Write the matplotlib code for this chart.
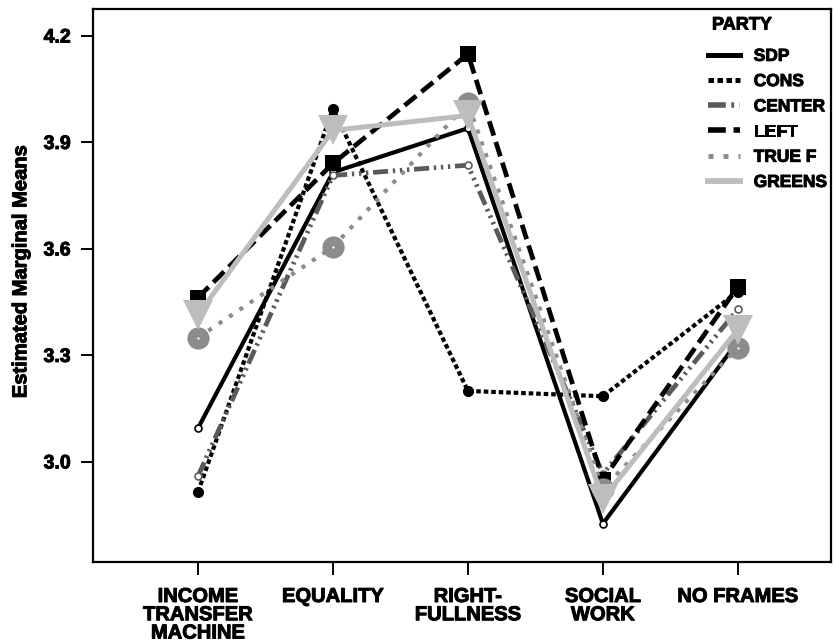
import matplotlib
matplotlib.use("Agg")
import matplotlib.pyplot as plt
import matplotlib.patheffects as pe
from matplotlib.lines import Line2D

plt.rcParams['font.family'] = ['Liberation Sans', 'DejaVu Sans']
plt.rcParams['font.weight'] = 'bold'

frames = ["INCOME\nTRANSFER\nMACHINE", "EQUALITY", "RIGHT-\nFULLNESS", "SOCIAL\nWORK", "NO FRAMES"]
parties = ["SDP", "CONS", "CENTER", "LEFT", "TRUE F", "GREENS"]

sdp = [3.095, 3.816, 3.940, 2.826, 3.340]
cons = [2.915, 3.995, 3.200, 3.185, 3.480]
center = [2.960, 3.807, 3.836, 2.966, 3.430]
left = [3.463, 3.841, 4.149, 2.950, 3.494]
truef = [3.350, 3.606, 4.010, 2.924, 3.322]
greens = [3.415, 3.934, 3.976, 2.896, 3.373]

yticks = [3.0, 3.3, 3.6, 3.9, 4.2]

series = [sdp, cons, center, left, truef, greens]
styles = [
    dict(color="black", lw=3.0, ls="-", marker="o", ms=5, mfc="white", mec="black", mew=1.2),
    dict(color="black", lw=3.0, ls=(0, (1.1, 0.7)), marker="o", ms=7, mfc="black", mec="black", mew=1),
    dict(color="#5a5a5a", lw=3.4, ls=(0, (3.2, 1.0, 0.5, 1.0, 0.5, 1.0, 0.5, 1.0)), marker="o", ms=5, mfc="white", mec="#5a5a5a", mew=1.2),
    dict(color="black", lw=3.4, ls=(0, (3.2, 1.4)), marker="s", ms=11, mfc="black", mec="black", mew=0),
    dict(color="#8c8c8c", lw=3.0, ls=(0, (1.0, 2.0)), marker="o", ms=9, mfc="white", mec="#8c8c8c", mew=7),
    dict(color="#bdbdbd", lw=3.6, ls="-", marker="v", ms=22, mfc="#bdbdbd", mec="#bdbdbd", mew=0),
]

bold_fx = [pe.withStroke(linewidth=0.7, foreground="black")]

fig = plt.figure(figsize=(8.35, 6.41), dpi=100)
ax = fig.add_axes([93/835, 1 - 562/641, (831 - 93)/835, (562 - 9)/641])

x = list(range(len(frames)))
for vals, st in zip(series, styles):
    ax.plot(x, vals, color=st["color"], lw=st["lw"], ls=st["ls"], dash_capstyle="butt",
            marker=st["marker"], ms=st["ms"], mfc=st["mfc"], mec=st["mec"], mew=st["mew"])

ax.set_xlim(-0.778, 4.69)
ax.set_ylim(2.718, 4.276)
ax.set_xticks(x)
ax.set_xticklabels(frames, fontsize=14.5, fontweight="bold", linespacing=0.95, va="top")
ax.set_yticks(yticks)
ax.set_yticklabels([f"{v:.1f}" for v in yticks], fontsize=14, fontweight="bold")
ax.tick_params(axis="both", direction="out", length=9, width=1.4)
ax.tick_params(axis="y", pad=7)
ax.tick_params(axis="x", pad=9)
for lab in ax.get_xticklabels() + ax.get_yticklabels():
    lab.set_path_effects(bold_fx)
for sp in ax.spines.values():
    sp.set_linewidth(1.6)
ax.set_ylabel("Estimated Marginal Means", fontsize=14.5, fontweight="bold", path_effects=bold_fx)
ax.yaxis.set_label_coords(-0.085, 0.525)

handles = [Line2D([0], [0], color=st["color"], lw=st["lw"] + 0.6, ls=st["ls"], dash_capstyle="butt")
           for st in styles]
leg = ax.legend(handles, parties, loc="upper left", bbox_to_anchor=(699/835, 1 - 40/641),
                bbox_transform=fig.transFigure, frameon=False,
                handlelength=1.85, handletextpad=0.8, labelspacing=0.58, borderpad=0,
                prop={"weight": "bold", "size": 12.5})
for t in leg.get_texts():
    t.set_path_effects(bold_fx)
fig.text(712/835, 1 - 25/641, "PARTY", fontsize=13, fontweight="bold", va="center", ha="left",
         path_effects=bold_fx)

fig.savefig("out.png", dpi=100)
